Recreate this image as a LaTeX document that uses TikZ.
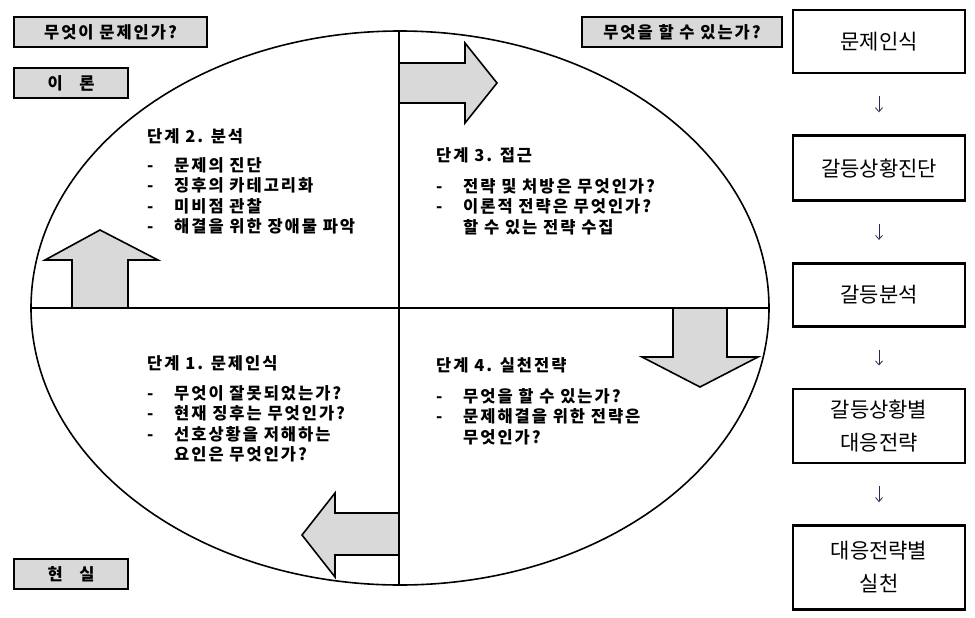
\documentclass[tikz,border=0pt]{standalone}
\usepackage{fontspec}
\setmainfont{Noto Sans CJK KR}
\newfontfamily\stagefont{Noto Sans CJK KR}[LetterSpace=12]
\usetikzlibrary{arrows.meta,positioning}
\definecolor{ArrowClr}{rgb}{0.85,0.85,0.85}
\definecolor{TickClr}{rgb}{0.2,0.13,0.35}

\newcommand{\stageitem}[1]{\makebox[27pt][l]{-}#1}
\newcommand{\stagecont}[1]{\hspace*{27pt}#1}

\begin{document}
\begin{tikzpicture}[x=1pt,y=-1pt,
  blockarrow/.style={fill=ArrowClr,draw=black,line width=1.6pt,line join=miter},
  tagbox/.style={draw=black,fill=ArrowClr,line width=1.6pt,inner sep=0pt,minimum height=30pt,font=\stagefont\bfseries\fontsize{16.5}{18}\selectfont},
  flowbox/.style={draw=black,fill=white,line width=2.6pt,minimum width=172pt,align=center,font=\fontsize{21}{33}\selectfont},
  stagehead/.style={anchor=west,inner sep=0pt,font=\stagefont\bfseries\fontsize{16.5}{19}\selectfont},
  stagelist/.style={anchor=north west,inner sep=0pt,align=left,font=\stagefont\bfseries\fontsize{16.5}{20.5}\selectfont},
  flowarrow/.style={-{Straight Barb[length=4pt,width=7pt]},line width=0.8pt,color=TickClr,shorten <=22pt,shorten >=22pt}]
\useasboundingbox (0,0) rectangle (975,618);

\coordinate (O) at (400,308);

% the cycle
\draw[line width=1.6pt,fill=white] (O) ellipse [x radius=369,y radius=277];

\draw[blockarrow] (72,308) -- (72,260) -- (45,260) -- (100,230) -- (158,260) -- (128,260) -- (128,308) -- cycle;
\draw[blockarrow] (399,63) -- (465,63) -- (465,43) -- (497,83) -- (465,123) -- (465,103) -- (399,103) -- cycle;
\draw[blockarrow] (673,308) -- (673,357) -- (642,357) -- (700,387) -- (758,357) -- (727,357) -- (727,308) -- cycle;
\draw[blockarrow] (399,513) -- (335,513) -- (335,493) -- (302,535) -- (335,577) -- (335,555) -- (399,555) -- cycle;

\draw[line width=1.6pt] (399,31) -- (399,585);
\draw[line width=1.6pt] (31,308) -- (769,308);

% tags
\node[tagbox,minimum width=193pt] (whatwrong) at (110.5,32) {무엇이 문제인가?};
\node[tagbox,minimum width=114pt] (theory) at (71,83) {이\hspace{1em}론};
\node[tagbox,minimum width=114pt] (reality) at (71,574) {현\hspace{1em}실};
\node[tagbox,minimum width=200pt] (whatcan) at (682,32) {무엇을 할 수 있는가?};

% stages
\node[stagehead] (head2) at (147,136) {단계 2. 분석};
\node[stagelist] (list2) at (147,157) {\stageitem{문제의 진단}\\ \stageitem{징후의 카테고리화}\\ \stageitem{미비점 관찰}\\ \stageitem{해결을 위한 장애물 파악}};

\node[stagehead] (head3) at (436,155) {단계 3. 접근};
\node[stagelist] (list3) at (436,178) {\stageitem{전략 및 처방은 무엇인가?}\\ \stageitem{이론적 전략은 무엇인가?}\\ \stagecont{할 수 있는 전략 수집}};

\node[stagehead] (head1) at (147,363) {단계 1. 문제인식};
\node[stagelist] (list1) at (147,385) {\stageitem{무엇이 잘못되었는가?}\\ \stageitem{현재 징후는 무엇인가?}\\ \stageitem{선호상황을 저해하는}\\ \stagecont{요인은 무엇인가?}};

\node[stagehead] (head4) at (436,365) {단계 4. 실천전략};
\node[stagelist] (list4) at (436,388) {\stageitem{무엇을 할 수 있는가?}\\ \stageitem{문제해결을 위한 전략은}\\ \stagecont{무엇인가?}};

% process column
\node[flowbox,minimum height=63pt] (recog) at (879,41.5) {문제인식};
\node[flowbox,minimum height=65pt,below=60pt of recog] (diag) {갈등상황진단};
\node[flowbox,minimum height=63pt,below=60pt of diag] (anal) {갈등분석};
\node[flowbox,minimum height=74pt,below=60pt of anal] (resp) {갈등상황별\\대응전략};
\node[flowbox,minimum height=84pt,below=60pt of resp] (act) {대응전략별\\실천};

\draw[flowarrow] (recog) -- (diag);
\draw[flowarrow] (diag) -- (anal);
\draw[flowarrow] (anal) -- (resp);
\draw[flowarrow] (resp) -- (act);

\end{tikzpicture}
\end{document}
